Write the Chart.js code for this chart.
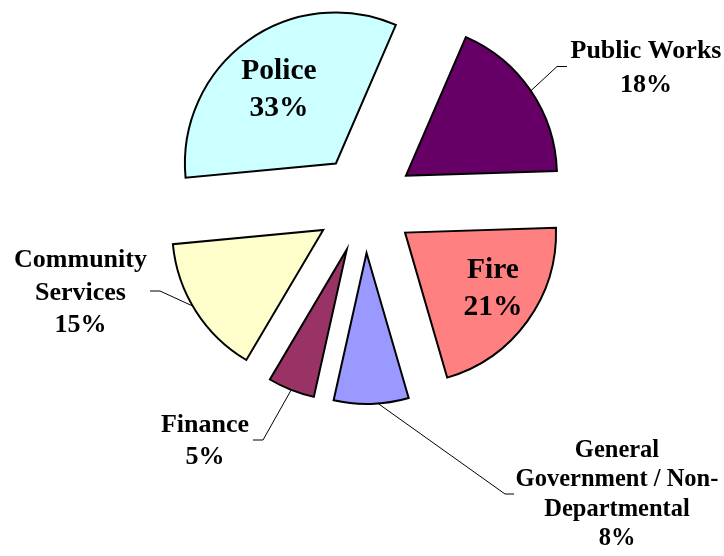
<!DOCTYPE html>
<html>
<head>
<meta charset="utf-8">
<script src="https://cdn.jsdelivr.net/npm/chart.js@4/dist/chart.umd.min.js"></script>
<style>
  html, body { margin: 0; padding: 0; background: #ffffff; }
  canvas { display: block; }
</style>
</head>
<body>
<canvas id="chart" width="724" height="556"></canvas>
<script>
// Budget share by department (percent of total)
const categories = ['Police', 'Public Works', 'Fire', 'General Government / Non-Departmental', 'Finance', 'Community Services'];
const shares = [33, 18, 21, 8, 5, 15];
// How each department name wraps inside its data label
const categoryLines = [['Police'], ['Public Works'], ['Fire'], ['General', 'Government / Non-', 'Departmental'], ['Finance'], ['Community', 'Services']];
const sliceColors = ['#CCFFFF', '#660066', '#FF8080', '#9999FF', '#993366', '#FFFFCC'];

// Label placement: inside labels sit on the slice, outside ones get a leader line
const labelLayout = [
  { x: 279, y: 79,  size: 29.5, lh: 37 },
  { x: 646, y: 58,  size: 26, lh: 33.5, attach: 0.5,  elbow: [557, 66.5], end: [567, 66.5] },
  { x: 493, y: 278, size: 29.5, lh: 37 },
  { x: 617, y: 457, size: 24.5, lh: 29.3, attach: 0.41, elbow: [505, 494], end: [514, 494] },
  { x: 205, y: 432, size: 26, lh: 31.5, attach: 0.5,  elbow: [263, 440], end: [253, 440] },
  { x: 80.5, y: 267, size: 26, lh: 32.5, attach: 0.54, elbow: [160, 291], end: [150, 291] }
];

const FONT = '"Liberation Serif", "Times New Roman", serif';

// Pull every slice away from the centre along its bisector
const explodePlugin = {
  id: 'explodedSlices',
  beforeDatasetDraw(chart, args, opts) {
    const ctx = chart.ctx;
    args.meta.data.forEach(arc => {
      const mid = (arc.startAngle + arc.endAngle) / 2;
      ctx.save();
      ctx.translate(Math.cos(mid) * opts.distance, Math.sin(mid) * opts.distance);
      arc.draw(ctx, chart.chartArea);
      ctx.restore();
    });
    return false;
  }
};

// Category + percentage labels, with leader lines for the outside ones
const labelPlugin = {
  id: 'sliceLabels',
  afterDatasetsDraw(chart, args, opts) {
    const ctx = chart.ctx;
    const dist = chart.options.plugins.explodedSlices.distance;
    const meta = chart.getDatasetMeta(0);
    meta.data.forEach((arc, i) => {
      const L = labelLayout[i];
      const lines = categoryLines[i].concat([shares[i] + '%']);
      ctx.save();
      if (L.elbow) {
        const mid = (arc.startAngle + arc.endAngle) / 2;
        const a = arc.startAngle + (arc.endAngle - arc.startAngle) * L.attach;
        const cx = arc.x + Math.cos(mid) * dist;
        const cy = arc.y + Math.sin(mid) * dist;
        const sx = cx + Math.cos(a) * arc.outerRadius;
        const sy = cy + Math.sin(a) * arc.outerRadius;
        ctx.strokeStyle = '#000000';
        ctx.lineWidth = 1;
        ctx.beginPath();
        ctx.moveTo(sx, sy);
        ctx.lineTo(L.elbow[0], L.elbow[1]);
        ctx.lineTo(L.end[0], L.end[1]);
        ctx.stroke();
      }
      ctx.fillStyle = '#000000';
      ctx.font = 'bold ' + L.size + 'px ' + FONT;
      ctx.textAlign = 'center';
      ctx.textBaseline = 'alphabetic';
      lines.forEach((t, k) => ctx.fillText(t, L.x, L.y + k * L.lh));
      ctx.restore();
    });
  }
};

new Chart(document.getElementById('chart'), {
  type: 'pie',
  data: {
    labels: categories,
    datasets: [{
      data: shares,
      backgroundColor: sliceColors,
      borderColor: '#000000',
      borderWidth: 2,
      borderJoinStyle: 'miter'
    }]
  },
  options: {
    responsive: false,
    animation: false,
    events: [],
    rotation: -95.4,
    radius: 151,
    layout: { padding: { left: 6, right: 0, top: 0, bottom: 149 } },
    plugins: {
      legend: { display: false },
      tooltip: { enabled: false },
      explodedSlices: { distance: 49.5 }
    }
  },
  plugins: [explodePlugin, labelPlugin]
});
</script>
</body>
</html>
